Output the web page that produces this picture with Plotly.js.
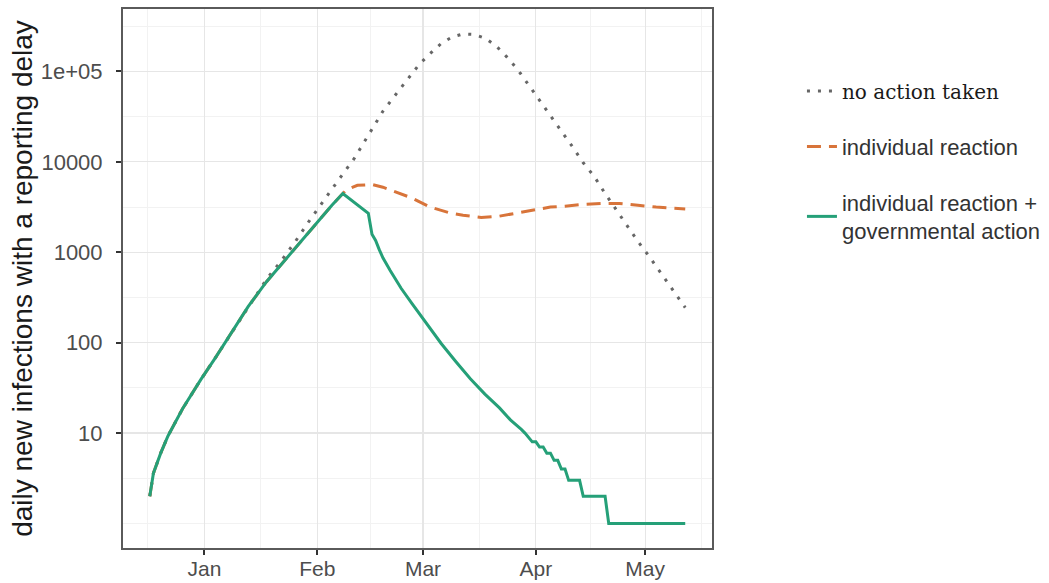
<!DOCTYPE html>
<html>
<head>
<meta charset="utf-8">
<script src="https://cdn.plot.ly/plotly-3.0.1.min.js"></script>
<style>
html,body{margin:0;padding:0;background:#ffffff;}
#chart{width:1049px;height:583px;}
</style>
</head>
<body>
<div id="chart"></div>
<script>
// ---- series names ----
const seriesNames = [
  '<span style="font-family:\'DejaVu Serif\',serif;font-size:20px;color:#1a1a1a">no action taken</span>',
  'individual reaction',
  'individual reaction +<br>governmental action'
];
const seriesColors = ['#666666', '#D8743A', '#25A078'];

// ---- no action taken (dotted) ----
const noActionDates = [
  '2019-12-17','2019-12-18','2019-12-20','2019-12-22','2019-12-26','2019-12-31',
  '2020-01-04','2020-01-09','2020-01-13','2020-01-18','2020-01-22','2020-01-26',
  '2020-01-30','2020-02-03','2020-02-07','2020-02-11','2020-02-15','2020-02-19',
  '2020-02-23','2020-02-26','2020-02-29','2020-03-03','2020-03-06','2020-03-09',
  '2020-03-12','2020-03-15','2020-03-18','2020-03-21','2020-03-24','2020-03-27',
  '2020-03-30','2020-04-02','2020-04-05','2020-04-08','2020-04-11','2020-04-14',
  '2020-04-17','2020-04-20','2020-04-23','2020-04-26','2020-04-29','2020-05-02',
  '2020-05-05','2020-05-08','2020-05-12'
];
const noActionValues = [
  2, 3.6, 6, 9.3, 18.6, 39,
  68, 138, 250, 500, 795, 1320,
  2290, 3890, 6460, 10700, 20000, 36300,
  58900, 85100, 120000, 158000, 204000, 240000,
  260000, 257000, 234000, 193000, 145000, 105000,
  70800, 49000, 33100, 21900, 14800, 9770,
  6920, 4470, 2950, 1950, 1320, 912,
  617, 407, 245
];

// ---- individual reaction (dashed) ----
const individualDates = [
  '2019-12-17','2019-12-18','2019-12-20','2019-12-22','2019-12-26','2019-12-31',
  '2020-01-04','2020-01-09','2020-01-13','2020-01-18','2020-01-22','2020-01-27',
  '2020-02-02','2020-02-05','2020-02-08','2020-02-09','2020-02-12','2020-02-16',
  '2020-02-19','2020-02-23','2020-02-27','2020-03-03','2020-03-08','2020-03-12',
  '2020-03-17','2020-03-22','2020-03-26','2020-03-31','2020-04-05','2020-04-09',
  '2020-04-14','2020-04-19','2020-04-24','2020-04-29','2020-05-04','2020-05-12'
];
const individualValues = [
  2, 3.6, 6, 9.3, 18.6, 39,
  68, 138, 250, 470, 725, 1260,
  2400, 3310, 4470, 4900, 5500, 5620,
  5250, 4570, 3980, 3160, 2750, 2570,
  2430, 2510, 2690, 2880, 3160, 3240,
  3390, 3470, 3470, 3310, 3160, 3020
];

// ---- individual reaction + governmental action (solid) ----
const governmentDates = [
  '2019-12-17','2019-12-18','2019-12-20','2019-12-22','2019-12-26','2019-12-31',
  '2020-01-04','2020-01-09','2020-01-13','2020-01-18','2020-01-22','2020-01-27',
  '2020-02-02','2020-02-05','2020-02-08','2020-02-12','2020-02-15','2020-02-16',
  '2020-02-17','2020-02-18','2020-02-19','2020-02-21','2020-02-24','2020-02-27',
  '2020-03-02','2020-03-06','2020-03-10','2020-03-14','2020-03-18','2020-03-22',
  '2020-03-25','2020-03-26','2020-03-27','2020-03-28','2020-03-29','2020-03-30',
  '2020-03-31','2020-04-01','2020-04-02','2020-04-03','2020-04-04','2020-04-05',
  '2020-04-06','2020-04-07','2020-04-08','2020-04-09','2020-04-10','2020-04-13',
  '2020-04-14','2020-04-20','2020-04-21','2020-05-12'
];
const governmentValues = [
  2, 3.6, 6, 9.3, 18.6, 39,
  68, 138, 250, 470, 725, 1260,
  2400, 3310, 4470, 3310, 2690, 1580,
  1350, 1070, 870, 630, 400, 270,
  160, 98, 62, 40, 27, 19,
  14, 13, 12, 11, 10, 9,
  8, 8, 7, 7, 6, 6,
  5, 5, 4, 4, 3, 3,
  2, 2, 1, 1
];

// ---- axes ----
const xRange = ['2019-12-09 15:36', '2020-05-19 08:24'];
const monthTicks = ['2020-01-01','2020-02-01','2020-03-01','2020-04-01','2020-05-01'];
const monthLabels = ['Jan','Feb','Mar','Apr','May'];
const monthMinor = ['2019-12-16 12:00','2020-01-16 12:00','2020-02-15 12:00','2020-03-16 12:00','2020-04-16 00:00','2020-05-16 12:00'];
const yRangeLog = [-0.271, 5.691];
const yTicks = [10, 100, 1000, 10000, 100000];
const yLabels = ['10', '100', '1000', '10000', '1e+05'];
const yMinor = [1, 3.1623, 31.623, 316.23, 3162.3, 31623, 316228];

const traces = [
  {x: noActionDates, y: noActionValues, name: seriesNames[0], legendgroup: 'a',
   mode: 'lines', line: {color: seriesColors[0], width: 3, dash: '3px,8px'}},
  {x: individualDates, y: individualValues, name: seriesNames[1], legendgroup: 'b',
   mode: 'lines', line: {color: seriesColors[1], width: 3, dash: '14px,8px'}},
  {x: governmentDates, y: governmentValues, name: seriesNames[2], legendgroup: 'c',
   mode: 'lines', line: {color: seriesColors[2], width: 3}}
];

const gridMajor = '#e6e6e6';
const gridMinor = '#f2f2f2';

const layout = {
  width: 1049, height: 583,
  margin: {l: 123, r: 337, t: 9, b: 35, pad: 0, autoexpand: false},
  paper_bgcolor: '#ffffff', plot_bgcolor: '#ffffff',
  font: {family: 'Liberation Sans, Arial, sans-serif', size: 22, color: '#4d4d4d'},
  showlegend: true,
  xaxis: {
    type: 'date', range: xRange,
    tickmode: 'array', tickvals: monthTicks, ticktext: monthLabels,
    showgrid: true, gridcolor: gridMajor, gridwidth: 1.2,
    minor: {tickmode: 'array', tickvals: monthMinor, showgrid: true, gridcolor: gridMinor, gridwidth: 1, ticks: ''},
    ticks: 'outside', ticklen: 5, tickwidth: 2, tickcolor: '#333333',
    tickfont: {size: 21, color: '#4d4d4d'},
    ticklabelstandoff: -4,
    showline: true, mirror: true, linecolor: '#5a5a5a', linewidth: 2,
    zeroline: false, fixedrange: true, automargin: false
  },
  yaxis: {
    type: 'log', range: yRangeLog,
    tickmode: 'array', tickvals: yTicks, ticktext: yLabels,
    showgrid: true, gridcolor: gridMajor, gridwidth: 1.2,
    minor: {tickmode: 'array', tickvals: yMinor, showgrid: true, gridcolor: gridMinor, gridwidth: 1, ticks: ''},
    ticks: 'outside', ticklen: 5, tickwidth: 2, tickcolor: '#333333',
    tickfont: {size: 22, color: '#4d4d4d'},
    ticklabelstandoff: 9,
    showline: true, mirror: true, linecolor: '#5a5a5a', linewidth: 2,
    zeroline: false, fixedrange: true, automargin: false,
    title: {text: 'daily new infections with a reporting delay', standoff: 0,
            font: {size: 28, color: '#1a1a1a'}}
  },
  legend: {
    xref: 'container', yref: 'container',
    x: 0.7645, xanchor: 'left', y: 0.8798, yanchor: 'top',
    font: {family: 'Liberation Sans, Arial, sans-serif', size: 22, color: '#333333'},
    traceorder: 'grouped', tracegroupgap: 24,
    bgcolor: 'rgba(0,0,0,0)', borderwidth: 0
  }
};

Plotly.newPlot('chart', traces, layout, {displayModeBar: false, staticPlot: true});
</script>
</body>
</html>
